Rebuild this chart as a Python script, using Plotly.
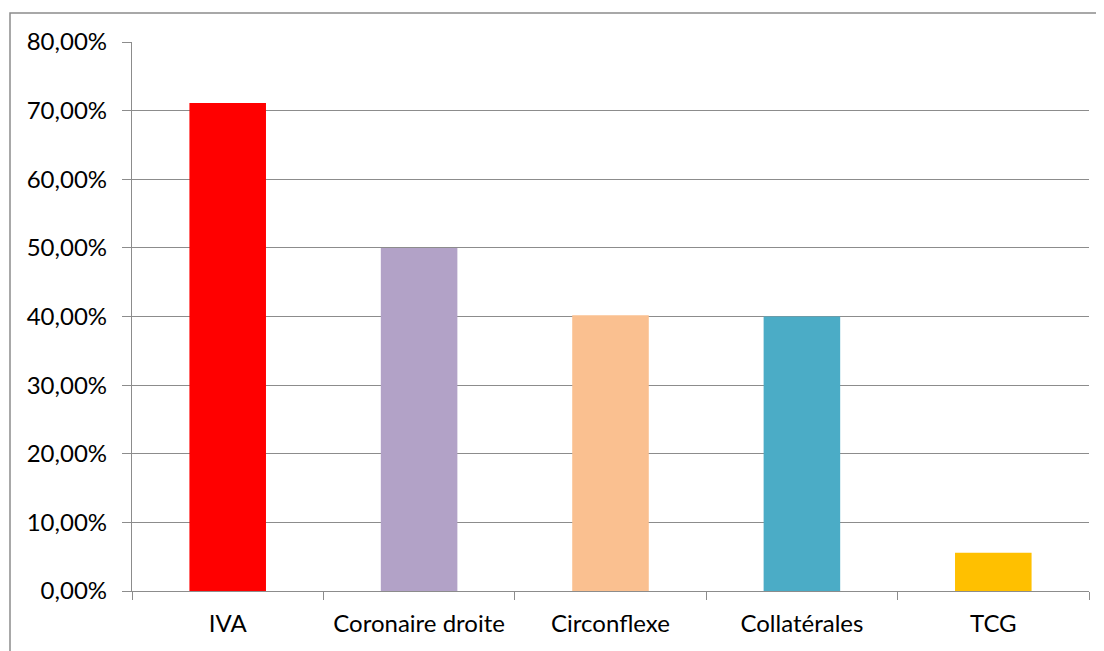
import plotly.graph_objects as go

categories = ["IVA", "Coronaire droite", "Circonflexe", "Collatérales", "TCG"]
values = [0.711, 0.50, 0.402, 0.40, 0.0556]
colors = ["#FF0000", "#B2A2C7", "#FAC090", "#4BACC6", "#FFC000"]
y_ticks = [0, 0.1, 0.2, 0.3, 0.4, 0.5, 0.6, 0.7, 0.8]

fig = go.Figure(go.Bar(x=categories, y=values, marker_color=colors, width=0.4,
                       marker_line_width=0))

font = dict(family="Lato", size=24, color="#000000")
fig.update_layout(
    width=1096, height=643,
    margin=dict(l=124, r=15, t=34, b=60),
    paper_bgcolor="white", plot_bgcolor="white",
    separators=", ",
    showlegend=False,
    font=font,
    shapes=[dict(type="rect", xref="paper", yref="paper",
                 x0=-122/957, x1=1.1, y0=-0.2, y1=1 + 29/549,
                 line=dict(color="#8C8C8C", width=1.5), fillcolor="rgba(0,0,0,0)")],
)
fig.update_yaxes(range=[0, 0.8], tickvals=y_ticks, tickformat=".2%",
                 showgrid=True, gridcolor="#8C8C8C", gridwidth=1.3,
                 showline=True, linecolor="#8C8C8C", linewidth=1.3,
                 ticks="outside", ticklen=9, tickcolor="#8C8C8C", tickwidth=1.3,
                 ticklabelstandoff=10, zeroline=False, tickfont=font)
fig.update_xaxes(showline=True, linecolor="#8C8C8C", linewidth=1.3,
                 ticks="outside", tickson="boundaries", ticklen=8,
                 tickcolor="#8C8C8C", tickwidth=1.3, showgrid=False,
                 ticklabelstandoff=11, tickfont=font)

fig.write_html("out.html")
